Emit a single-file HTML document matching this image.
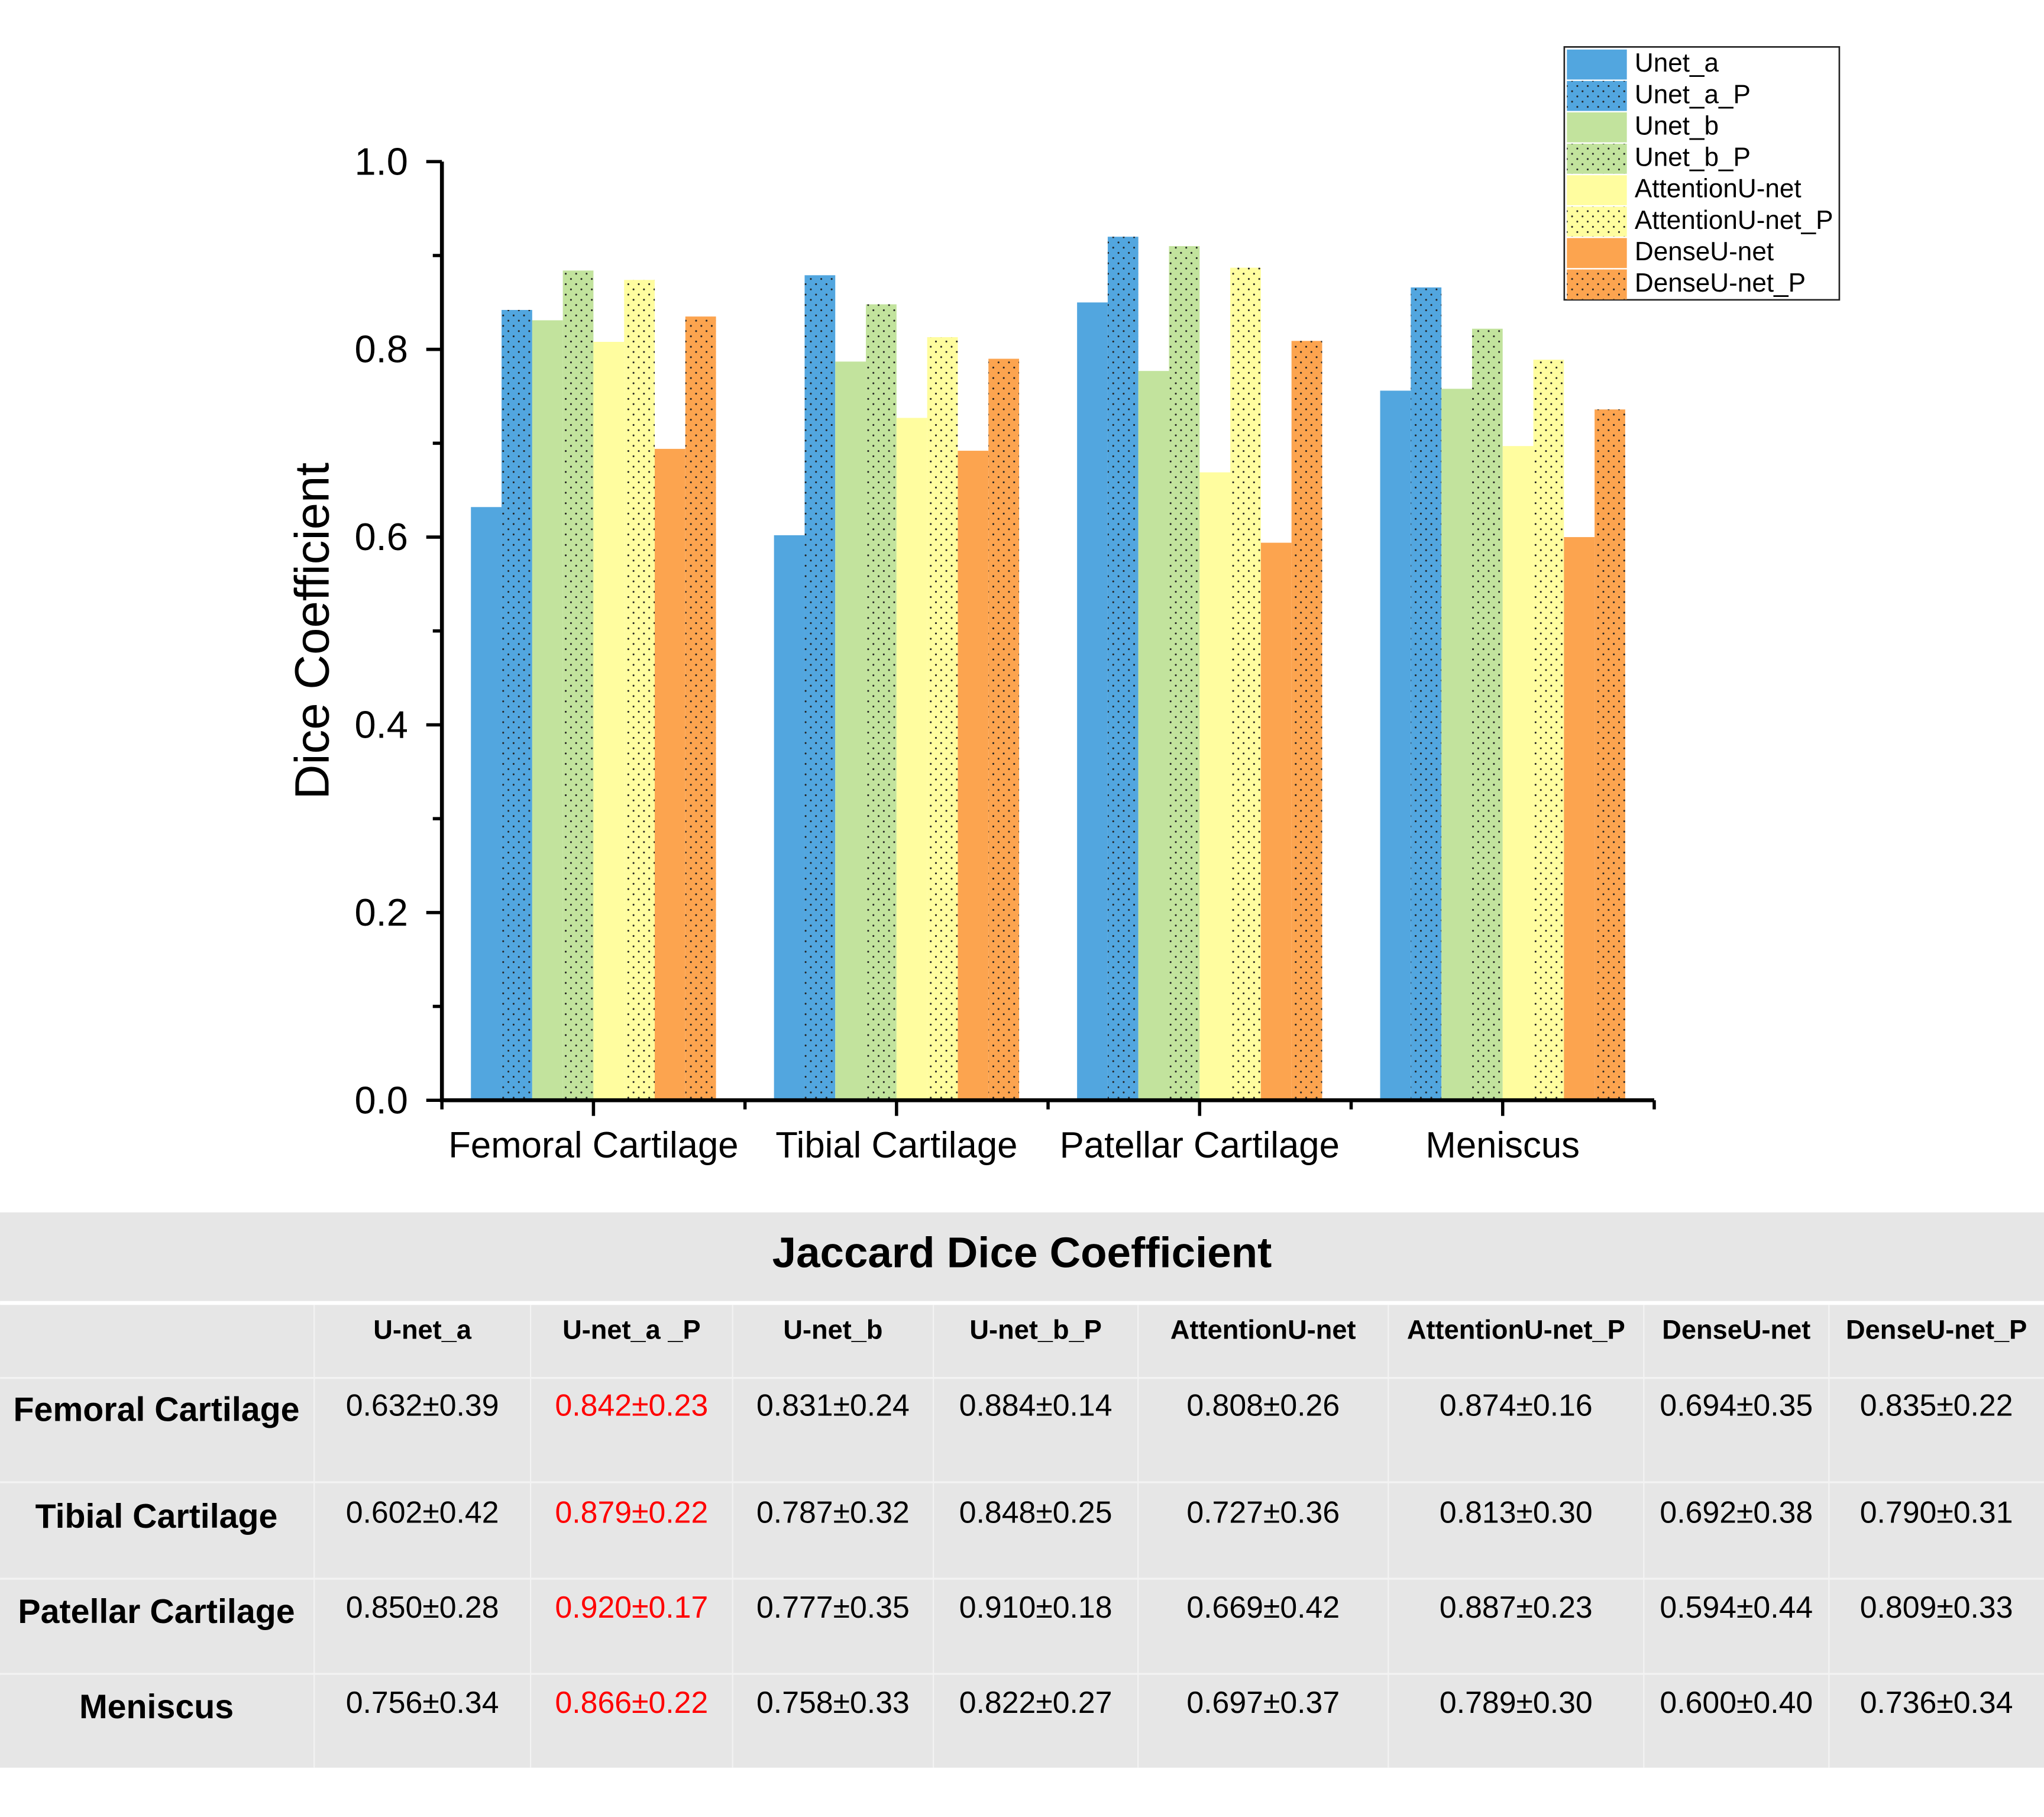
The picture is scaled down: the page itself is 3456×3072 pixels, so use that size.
<!DOCTYPE html>
<html><head><meta charset="utf-8"><style>
html,body{margin:0;padding:0;background:#fff;}
svg{display:block;}
text{font-family:"Liberation Sans",sans-serif;}
.tb{font-family:"Liberation Sans Narrow","Liberation Sans",sans-serif;}
</style></head><body>
<svg id="root" width="3456" height="3072" viewBox="0 0 1568 1393.8" xmlns="http://www.w3.org/2000/svg">
<defs>
<pattern id="dots" width="8" height="8" patternUnits="userSpaceOnUse">
<circle cx="2" cy="2" r="0.7" fill="#222"/><circle cx="6" cy="6" r="0.7" fill="#222"/>
</pattern>
</defs>
<g id="chart"></g>
<g id="legend"></g>
<g id="table"></g>
</svg>
<script>
const categories = ["Femoral Cartilage","Tibial Cartilage","Patellar Cartilage","Meniscus"];
const seriesNames = ["Unet_a","Unet_a_P","Unet_b","Unet_b_P","AttentionU-net","AttentionU-net_P","DenseU-net","DenseU-net_P"];
const tableHeaders = ["U-net_a","U-net_a _P","U-net_b","U-net_b_P","AttentionU-net","AttentionU-net_P","DenseU-net","DenseU-net_P"];
const unetA = [0.632,0.602,0.850,0.756];
const unetAP = [0.842,0.879,0.920,0.866];
const unetB = [0.831,0.787,0.777,0.758];
const unetBP = [0.884,0.848,0.910,0.822];
const attn = [0.808,0.727,0.669,0.697];
const attnP = [0.874,0.813,0.887,0.789];
const dense = [0.694,0.692,0.594,0.600];
const denseP = [0.835,0.790,0.809,0.736];
const stdA = [0.39,0.42,0.28,0.34];
const stdAP = [0.23,0.22,0.17,0.22];
const stdB = [0.24,0.32,0.35,0.33];
const stdBP = [0.14,0.25,0.18,0.27];
const stdAt = [0.26,0.36,0.42,0.37];
const stdAtP = [0.16,0.30,0.23,0.30];
const stdD = [0.35,0.38,0.44,0.40];
const stdDP = [0.22,0.31,0.33,0.34];
const yTicks = [0.0,0.2,0.4,0.6,0.8,1.0];

const NS="http://www.w3.org/2000/svg";
function mk(tag,attrs,parent){const e=document.createElementNS(NS,tag);for(const k in attrs)e.setAttribute(k,attrs[k]);parent.appendChild(e);return e;}
const series=[unetA,unetAP,unetB,unetBP,attn,attnP,dense,denseP];
const stds=[stdA,stdAP,stdB,stdBP,stdAt,stdAtP,stdD,stdDP];
const colors=["#52a6df","#52a6df","#c2e39d","#c2e39d","#fffd9f","#fffd9f","#fca44f","#fca44f"];
const X0=339,X1=1269,Y0=844,Y1=124;
const yS=v=>Y0-(v-0)/(1.0-0)*(Y0-Y1);
const catW=(X1-X0)/categories.length;
const barW=23.5;
const xBand=i=>X0+catW*i+(catW-barW*series.length)/2;
const chart=document.getElementById('chart');
categories.forEach((c,ci)=>{
  series.forEach((s,si)=>{
    const x=xBand(ci)+si*barW, y=yS(s[ci]);
    const r=mk('rect',{x:x,y:y,width:barW,height:Y0-y,fill:colors[si]},chart);
    
    
    if(si%2===1){const p=mk('rect',{x:x,y:y,width:barW,height:Y0-y,fill:'url(#dots)'},chart);
      
      }
  });
});
const ya=mk('line',{x1:X0,y1:Y1,x2:X0,y2:Y0+1.5,stroke:'#000','stroke-width':3},chart);


const xa=mk('line',{x1:X0-1.5,y1:Y0,x2:X1,y2:Y0,stroke:'#000','stroke-width':3},chart);


for(let k=0;k<=10;k++){const v=k/10;const major=k%2===0;
  mk('line',{x1:X0-(major?12:7),y1:yS(v),x2:X0,y2:yS(v),stroke:'#000','stroke-width':2.5},chart);}
yTicks.forEach(v=>{const t=mk('text',{x:313,y:yS(v)+10,'text-anchor':'end','font-size':29.5},chart);t.textContent=v.toFixed(1);
  
  });
for(let i=0;i<=categories.length;i++){mk('line',{x1:X0+catW*i,y1:Y0,x2:X0+catW*i,y2:Y0+7,stroke:'#000','stroke-width':2.5},chart);}
categories.forEach((c,ci)=>{const cx=X0+catW*(ci+0.5);
  mk('line',{x1:cx,y1:Y0,x2:cx,y2:Y0+12,stroke:'#000','stroke-width':2.5},chart);
  const t=mk('text',{x:cx,y:888,'text-anchor':'middle','font-size':28},chart);t.textContent=c;
  
  });
const yt=mk('text',{x:0,y:0,transform:'translate(252,484) rotate(-90)','text-anchor':'middle','font-size':37},chart);
yt.textContent='Dice Coefficient';


const lg=document.getElementById('legend');
mk('rect',{x:1200,y:36,width:211,height:194,fill:'#fff',stroke:'#222','stroke-width':1.2},lg);
seriesNames.forEach((n,i)=>{const y=38+i*24.1;
  const g=mk('g',{},lg);
  
  
  mk('rect',{x:1202,y:y,width:46,height:23,fill:colors[i]},g);
  if(i%2===1)mk('rect',{x:1202,y:y,width:46,height:23,fill:'url(#dots)'},g);
  const t=mk('text',{x:1254,y:y+17,'font-size':20},g);t.textContent=n;});
const tb=document.getElementById('table');
const cols=[0,241,407,562,716,873,1065,1261,1403,1568];
const rows=[1057,1137,1211,1284,1356];
mk('rect',{x:0,y:930,width:1568,height:426,fill:'#e6e6e6'},tb);
mk('rect',{x:0,y:998,width:1568,height:3,fill:'#fff'},tb);
const tt=mk('text',{x:784,y:972,'text-anchor':'middle','font-size':33,'font-weight':'bold',class:'tb'},tb);
tt.textContent='Jaccard Dice Coefficient';


for(let i=1;i<cols.length-1;i++)mk('line',{x1:cols[i],y1:1001,x2:cols[i],y2:1356,stroke:'#f3f3f3','stroke-width':1},tb);
rows.slice(0,4).forEach(y=>mk('line',{x1:0,y1:y,x2:1568,y2:y,stroke:'#f3f3f3','stroke-width':1.5},tb));
tableHeaders.forEach((h,i)=>{const t=mk('text',{x:(cols[i+1]+cols[i+2])/2,y:1027,'text-anchor':'middle','font-size':20.5,'font-weight':'bold',class:'tb'},tb);t.textContent=h;
  
  });
const rowTextY=[1086,1168,1241,1314];
categories.forEach((c,ci)=>{
  const t=mk('text',{x:120,y:rowTextY[ci]+4,'text-anchor':'middle','font-size':26,'font-weight':'bold',class:'tb'},tb);t.textContent=c;
  
  
  series.forEach((s,si)=>{const v=mk('text',{x:(cols[si+1]+cols[si+2])/2,y:rowTextY[ci],'text-anchor':'middle','font-size':23.5,fill:si===1?'#ff0000':'#000',class:'tb'},tb);
    v.textContent=s[ci].toFixed(3)+'±'+stds[si][ci].toFixed(2);
    
    });
});
</script>
</body></html>
